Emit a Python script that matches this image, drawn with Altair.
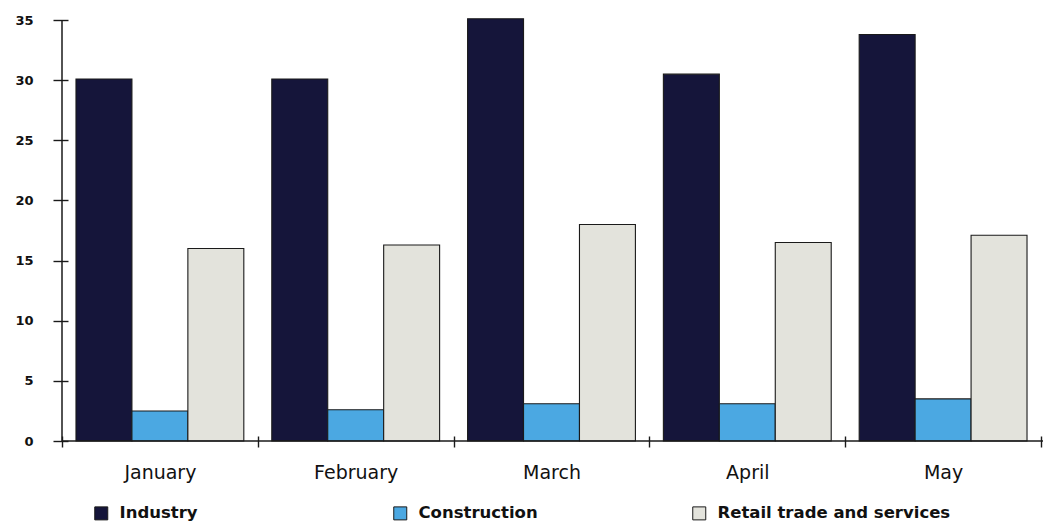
import altair as alt
import pandas as pd

# Monthly values by sector
months = ["January", "February", "March", "April", "May"]
sectors = ["Industry", "Construction", "Retail trade and services"]
industry = [30.1, 30.1, 35.1, 30.5, 33.8]
construction = [2.5, 2.6, 3.1, 3.1, 3.5]
retail = [16.0, 16.3, 18.0, 16.5, 17.1]
y_ticks = [0, 5, 10, 15, 20, 25, 30, 35]
colors = ["#15153a", "#4ba8e2", "#e3e3dc"]

rows = []
for series_name, series in zip(sectors, [industry, construction, retail]):
    for m, v in zip(months, series):
        rows.append({"month": m, "sector": series_name, "value": v})
df = pd.DataFrame(rows)

W, H = 979, 421
FONT = "DejaVu Sans"
INK = "#1a1a1a"

y_scale = alt.Scale(domain=[0, 35], nice=False, zero=True)

bars = alt.Chart(df).mark_bar(stroke=INK, strokeWidth=1.1).encode(
    x=alt.X(
        "month:N",
        sort=months,
        scale=alt.Scale(paddingInner=0, paddingOuter=0),
        axis=alt.Axis(
            title=None,
            domain=False,
            tickBand="extent",
            tickSize=11,
            tickWidth=1.4,
            tickColor=INK,
            offset=-5,
            labelAngle=0,
            labelFont=FONT,
            labelFontSize=19,
            labelColor="#111",
            labelPadding=16,
        ),
    ),
    xOffset=alt.XOffset(
        "sector:N",
        sort=sectors,
        scale=alt.Scale(paddingInner=0, paddingOuter=0.25),
    ),
    y=alt.Y(
        "value:Q",
        scale=y_scale,
        axis=alt.Axis(
            title=None,
            values=y_ticks,
            domain=False,
            grid=False,
            tickSize=15,
            tickWidth=1.4,
            tickColor=INK,
            offset=-6,
            labelFont=FONT,
            labelFontWeight="bold",
            labelFontSize=13,
            labelColor="#111",
            labelPadding=20,
        ),
    ),
    color=alt.Color(
        "sector:N",
        sort=sectors,
        scale=alt.Scale(domain=sectors, range=colors),
        legend=alt.Legend(
            title=None,
            orient="none",
            legendX=31,
            legendY=485,
            direction="horizontal",
            columns=3,
            gridAlign="all",
            columnPadding=38,
            symbolType="square",
            symbolSize=169,
            symbolStrokeColor=INK,
            symbolStrokeWidth=1,
            symbolOpacity=1,
            labelFont=FONT,
            labelFontWeight="bold",
            labelFontSize=16.5,
            labelColor="#111",
            labelOffset=10,
            labelLimit=400,
            padding=0,
        ),
    ),
)

# Axis lines: vertical line at the left edge and baseline at zero
base_row = pd.DataFrame({"k": [0]})
y_line = alt.Chart(base_row).mark_rule(color=INK, strokeWidth=1.5).encode(
    x=alt.value(0), y=alt.datum(0, scale=y_scale), y2=alt.datum(35)
)
x_line = alt.Chart(base_row).mark_rule(color=INK, strokeWidth=1.5).encode(
    y=alt.datum(0, scale=y_scale), x=alt.value(0), x2=alt.value(W + 2)
)

chart = (
    alt.layer(bars, y_line, x_line)
    .properties(
        width=W,
        height=H,
        view=alt.ViewBackground(stroke="transparent", strokeWidth=0),
        autosize=alt.AutoSizeParams(type="none"),
        padding={"left": 62, "top": 20, "right": 7, "bottom": 80},
    )
    .configure_view(strokeWidth=0, stroke="transparent")
    .configure(background="white")
)

chart.save("out.html", embed_options={"renderer": "svg", "actions": False})
